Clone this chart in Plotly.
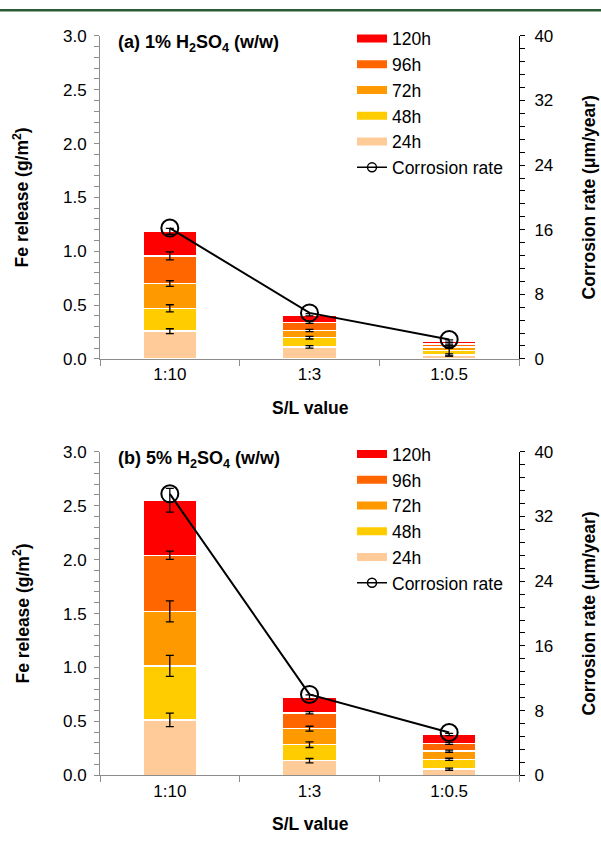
import numpy as np
import plotly.graph_objects as go

categories = ["1:10", "1:3", "1:0.5"]
hours = ["24h", "48h", "72h", "96h", "120h"]
colors = ["#FFCC99", "#FFCC00", "#FF9900", "#FF6600", "#FF0000"]

# Panel (a) 1% H2SO4: Fe release increments (g/m2) per interval
a_24h = [0.257, 0.112, 0.036]
a_48h = [0.213, 0.085, 0.043]
a_72h = [0.230, 0.067, 0.030]
a_96h = [0.257, 0.076, 0.030]
a_120h = [0.228, 0.070, 0.027]
a_err_24h = [0.023, 0.012, 0.010]
a_err_48h = [0.033, 0.012, 0.050]
a_err_72h = [0.026, 0.010, 0.010]
a_err_96h = [0.038, 0.010, 0.010]
a_err_120h = [0.027, 0.010, 0.010]
a_corrosion = [16.2, 5.7, 2.4]

# Panel (b) 5% H2SO4
b_24h = [0.514, 0.136, 0.057]
b_48h = [0.501, 0.148, 0.091]
b_72h = [0.505, 0.148, 0.076]
b_96h = [0.520, 0.148, 0.072]
b_120h = [0.510, 0.145, 0.082]
b_err_24h = [0.063, 0.020, 0.010]
b_err_48h = [0.097, 0.026, 0.010]
b_err_72h = [0.097, 0.023, 0.010]
b_err_96h = [0.038, 0.010, 0.010]
b_err_120h = [0.110, 0.020, 0.010]
b_corrosion = [34.8, 10.0, 5.3]

left_ticks = [0, 0.5, 1.0, 1.5, 2.0, 2.5, 3.0]
right_ticks = [0, 8, 16, 24, 32, 40]

W, H = 601, 842
FONT = "Arial, Liberation Sans, sans-serif"

def px_x(p):
    return p / W

def px_y(p):
    return 1 - p / H

panels = [
    dict(vals=[a_24h, a_48h, a_72h, a_96h, a_120h],
         errs=[a_err_24h, a_err_48h, a_err_72h, a_err_96h, a_err_120h],
         corr=a_corrosion, x="x", y="y", y2="y2", legend="legend",
         top=27.5, bottom=358.0,
         title="(a) 1% H<sub>2</sub>SO<sub>4</sub> (w/w)"),
    dict(vals=[b_24h, b_48h, b_72h, b_96h, b_120h],
         errs=[b_err_24h, b_err_48h, b_err_72h, b_err_96h, b_err_120h],
         corr=b_corrosion, x="x2", y="y3", y2="y4", legend="legend2",
         top=453.0, bottom=784.0,
         title="(b) 5% H<sub>2</sub>SO<sub>4</sub> (w/w)"),
]

fig = go.Figure()

for p in panels:
    for i, h in enumerate(hours):
        fig.add_trace(go.Bar(
            x=categories, y=p["vals"][i], name=h,
            xaxis=p["x"], yaxis=p["y"],
            marker=dict(color=colors[i], line=dict(color="white", width=1.5)),
            showlegend=False,
        ))
    # error bars drawn on top of all stacked segments
    tops = np.cumsum(np.array(p["vals"]), axis=0)
    for i, h in enumerate(hours):
        fig.add_trace(go.Scatter(
            x=categories, y=tops[i], xaxis=p["x"], yaxis=p["y"],
            mode="markers", marker=dict(size=0.1, color="rgba(0,0,0,0)"),
            error_y=dict(type="data", array=p["errs"][i], color="black",
                         thickness=1.3, width=4, visible=True),
            showlegend=False, hoverinfo="skip",
        ))
    fig.add_trace(go.Scatter(
        x=categories, y=p["corr"], name="Corrosion rate",
        xaxis=p["x"], yaxis=p["y2"],
        mode="lines+markers",
        line=dict(color="black", width=2),
        marker=dict(symbol="circle-open", size=17, color="black",
                    line=dict(width=2, color="black")),
        showlegend=False,
    ))
    # legend entries
    for i in range(4, -1, -1):
        fig.add_trace(go.Scatter(
            x=[None], y=[None], xaxis=p["x"], yaxis=p["y"],
            mode="lines", name=hours[i],
            line=dict(color=colors[i], width=8),
            legend=p["legend"], legendgroup=p["legend"] + hours[i],
            showlegend=True,
        ))
    fig.add_trace(go.Scatter(
        x=[None], y=[None], xaxis=p["x"], yaxis=p["y2"],
        mode="lines+markers", name="Corrosion rate",
        line=dict(color="black", width=1.5),
        marker=dict(symbol="circle-open", size=9, color="black",
                    line=dict(width=1.5, color="black")),
        legend=p["legend"], legendgroup=p["legend"] + "corr",
        showlegend=True,
    ))

TICKSIZE = 17
xdom = [px_x(100), px_x(519)]
common_x = dict(
    domain=xdom, type="category", categoryorder="array", categoryarray=categories,
    showline=True, linecolor="#8c8c8c", linewidth=1,
    ticks="outside", ticklen=6, tickcolor="#8c8c8c", tickson="boundaries",
    tickfont=dict(family=FONT, size=TICKSIZE, color="black"),
    showgrid=False, zeroline=False, range=[-0.5, 2.5],
)
left_y = dict(
    range=[0, 3.0], tickvals=left_ticks, ticktext=[f"{v:.1f}" for v in left_ticks],
    showline=True, linecolor="#8c8c8c", linewidth=1,
    ticks="outside", ticklen=5, tickcolor="#8c8c8c",
    minor=dict(dtick=0.1, ticks="outside", ticklen=5, tickcolor="#8c8c8c"),
    tickfont=dict(family=FONT, size=TICKSIZE, color="black"),
    showgrid=False, zeroline=False, ticklabelstandoff=4,
)
right_y = dict(
    range=[0, 40], tickvals=right_ticks,
    showline=True, linecolor="black", linewidth=1, side="right",
    ticks="outside", ticklen=5, tickcolor="black",
    minor=dict(dtick=1.6, ticks="outside", ticklen=5, tickcolor="black"),
    tickfont=dict(family=FONT, size=TICKSIZE, color="black"),
    showgrid=False, zeroline=False, ticklabelstandoff=6,
)

ydom_a = [px_y(358.0), px_y(27.5)]
ydom_b = [px_y(784.0), px_y(453.0)]

LEGSIZE = 17.5
fig.update_layout(
    width=W, height=H,
    margin=dict(l=0, r=0, t=0, b=0),
    paper_bgcolor="white", plot_bgcolor="rgba(0,0,0,0)",
    barmode="stack", bargap=0.613,
    font=dict(family=FONT, size=TICKSIZE, color="black"),
    xaxis=dict(**common_x, anchor="y"),
    xaxis2=dict(**common_x, anchor="y3"),
    yaxis=dict(**left_y, domain=ydom_a, anchor="x"),
    yaxis2=dict(**right_y, domain=ydom_a, anchor="x", overlaying="y"),
    yaxis3=dict(**left_y, domain=ydom_b, anchor="x2"),
    yaxis4=dict(**right_y, domain=ydom_b, anchor="x2", overlaying="y3"),
    legend=dict(x=px_x(352), y=px_y(12), xanchor="left", yanchor="top",
                bgcolor="rgba(0,0,0,0)", font=dict(family=FONT, size=LEGSIZE),
                traceorder="normal", tracegroupgap=1, itemwidth=30),
    legend2=dict(x=px_x(352), y=px_y(437), xanchor="left", yanchor="top",
                 bgcolor="rgba(0,0,0,0)", font=dict(family=FONT, size=LEGSIZE),
                 traceorder="normal", tracegroupgap=1, itemwidth=30),
    shapes=[dict(type="rect", xref="paper", yref="paper", x0=0, x1=1,
                 y0=px_y(2.5), y1=1, fillcolor="#2b5a36", line=dict(width=0))],
)

annotations = []
for p in panels:
    mid = (p["top"] + p["bottom"]) / 2
    annotations.append(dict(text="<b>" + p["title"] + "</b>", xref="paper", yref="paper",
                            x=px_x(116), y=px_y(p["top"] + 8), xanchor="left", yanchor="middle",
                            showarrow=False, font=dict(family=FONT, size=18, color="black")))
    annotations.append(dict(text="<b>Fe release (g/m<sup>2</sup>)</b>", xref="paper", yref="paper",
                            x=px_x(21), y=px_y(mid), xanchor="center", yanchor="middle",
                            textangle=-90, showarrow=False,
                            font=dict(family=FONT, size=17.5, color="black")))
    annotations.append(dict(text="<b>Corrosion rate (μm/year)</b>", xref="paper", yref="paper",
                            x=px_x(589), y=px_y(mid), xanchor="center", yanchor="middle",
                            textangle=-90, showarrow=False,
                            font=dict(family=FONT, size=17.5, color="black")))
    annotations.append(dict(text="<b>S/L value</b>", xref="paper", yref="paper",
                            x=px_x(310), y=px_y(p["bottom"] + 50), xanchor="center", yanchor="middle",
                            showarrow=False, font=dict(family=FONT, size=17.5, color="black")))
fig.update_layout(annotations=annotations)

fig.write_html("out.html")
